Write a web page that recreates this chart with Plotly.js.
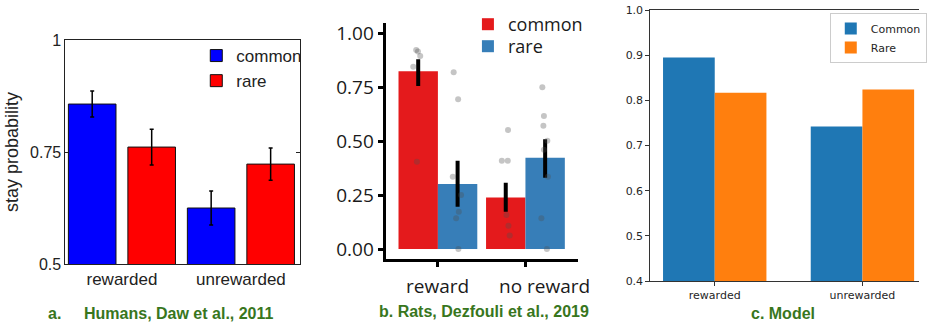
<!DOCTYPE html>
<html><head><meta charset="utf-8">
<script src="https://cdn.plot.ly/plotly-3.0.1.min.js"></script>
<style>html,body{margin:0;padding:0;background:#fff;}#chart{width:927px;height:326px;}</style>
</head><body><div id="chart"></div>
<script>
// ---------- Panel a: Humans, Daw et al., 2011 ----------
const catsA = ['rewarded', 'unrewarded'];
const humansCommon = [0.857, 0.625];
const humansRare = [0.761, 0.723];
const humansCommonErr = [0.029, 0.038];
const humansRareErr = [0.040, 0.036];
const ticksA = [0.5, 0.75, 1];
const tickTextA = ['0.5', '0.75', '1'];

// ---------- Panel b: Rats, Dezfouli et al., 2019 ----------
const catsB = ['reward', 'no reward'];
const ratsCommon = [0.823, 0.238];
const ratsRare = [0.301, 0.423];
const ratsCommonLow = [0.755, 0.173];
const ratsCommonHigh = [0.878, 0.307];
const ratsRareLow = [0.196, 0.330];
const ratsRareHigh = [0.409, 0.508];
// individual animals (grey dots), per condition
const ratsCommonRewardPts = [0.921, 0.914, 0.894, 0.844, 0.404];
const ratsRareRewardPts = [0.818, 0.693, 0.335, 0.250, 0.173, 0.142, 0.0];
const ratsCommonNoRewardPts = [0.551, 0.409, 0.409, 0.157, 0.108, 0.062];
const ratsRareNoRewardPts = [0.749, 0.616, 0.571, 0.501, 0.460, 0.335, 0.142, 0.0];
// horizontal jitter of the dots (category units)
const jitCommonReward = [-0.023, -0.003, 0.023, -0.057, -0.015];
const jitRareReward = [-0.045, 0.006, -0.055, 0.040, 0.014, -0.017, 0.009];
const jitCommonNoReward = [0.026, -0.045, 0.023, 0.008, 0.031, 0.045];
const jitRareNoReward = [-0.032, -0.014, -0.020, 0.025, -0.014, 0.032, -0.043, 0.020];
const ticksB = [0, 0.25, 0.5, 0.75, 1];

// ---------- Panel c: Model ----------
const catsC = ['rewarded', 'unrewarded'];
const modelCommon = [0.895, 0.742];
const modelRare = [0.817, 0.824];
const ticksC = [0.4, 0.5, 0.6, 0.7, 0.8, 0.9, 1.0];

// ---------- layout helpers ----------
const W = 927, H = 326;
const px = v => v / W;
const py = v => 1 - v / H;
const idx = arr => arr.map((_, i) => i);
const green = '#38761d';
const titleFont = {family: 'Liberation Sans, Arial, sans-serif', size: 16, color: green, weight: 700};

const wA = 0.4, wB = 0.45, wC = 0.35;

const traces = [];
// Panel a bars
traces.push({type: 'bar', name: 'common', x: idx(catsA), y: humansCommon, xaxis: 'x', yaxis: 'y',
  width: wA, offset: -0.45, legend: 'legend',
  marker: {color: '#0000ff', line: {color: '#111', width: 1}},
  error_y: {type: 'data', array: humansCommonErr, visible: true, color: '#000', thickness: 1.5, width: 2}});
traces.push({type: 'bar', name: 'rare', x: idx(catsA), y: humansRare, xaxis: 'x', yaxis: 'y',
  width: wA, offset: 0.05, legend: 'legend',
  marker: {color: '#ff0000', line: {color: '#111', width: 1}},
  error_y: {type: 'data', array: humansRareErr, visible: true, color: '#000', thickness: 1.5, width: 2}});

// Panel b bars
const diff = (a, b) => a.map((v, i) => v - b[i]);
traces.push({type: 'bar', name: 'common', x: idx(catsB), y: ratsCommon, xaxis: 'x2', yaxis: 'y2',
  width: wB, offset: -wB, legend: 'legend2',
  marker: {color: '#e41a1c', line: {width: 0}},
  error_y: {type: 'data', symmetric: false, array: diff(ratsCommonHigh, ratsCommon),
    arrayminus: diff(ratsCommon, ratsCommonLow), visible: true, color: '#000', thickness: 4, width: 0}});
traces.push({type: 'bar', name: 'rare', x: idx(catsB), y: ratsRare, xaxis: 'x2', yaxis: 'y2',
  width: wB, offset: 0, legend: 'legend4',
  marker: {color: '#377eb8', line: {width: 0}},
  error_y: {type: 'data', symmetric: false, array: diff(ratsRareHigh, ratsRare),
    arrayminus: diff(ratsRare, ratsRareLow), visible: true, color: '#000', thickness: 4, width: 0}});
// Panel b dots
const dotGroups = [
  [ratsCommonRewardPts, jitCommonReward, 0, -wB / 2],
  [ratsRareRewardPts, jitRareReward, 0, wB / 2],
  [ratsCommonNoRewardPts, jitCommonNoReward, 1, -wB / 2],
  [ratsRareNoRewardPts, jitRareNoReward, 1, wB / 2]
];
dotGroups.forEach(([vals, jit, ci, side]) => {
  traces.push({type: 'scatter', mode: 'markers', x: vals.map((_, i) => ci + side + jit[i]), y: vals,
    xaxis: 'x2', yaxis: 'y2', showlegend: false, cliponaxis: false,
    marker: {size: 6, color: 'rgba(80,80,80,0.33)', line: {width: 0}}});
});

// Panel c bars
traces.push({type: 'bar', name: 'Common', x: idx(catsC), y: modelCommon, xaxis: 'x3', yaxis: 'y3',
  width: wC, offset: -wC, legend: 'legend3', marker: {color: '#1f77b4', line: {width: 0}}});
traces.push({type: 'bar', name: 'Rare', x: idx(catsC), y: modelRare, xaxis: 'x3', yaxis: 'y3',
  width: wC, offset: 0, legend: 'legend3', marker: {color: '#ff7f0e', line: {width: 0}}});

const fA = {family: 'Liberation Sans, Arial, sans-serif', color: '#222'};
const fB = {family: 'Open Sans, sans-serif', color: '#1a1a1a'};
const fC = {family: 'DejaVu Sans, sans-serif', color: '#262626'};

const layout = {
  width: W, height: H, margin: {l: 0, r: 0, t: 0, b: 0},
  paper_bgcolor: '#fff', plot_bgcolor: 'rgba(0,0,0,0)', barmode: 'group',
  xaxis: {domain: [px(66), px(303)], range: [-0.475, 1.5], anchor: 'y',
    tickvals: idx(catsA), ticktext: catsA, ticks: '', showgrid: false, zeroline: false,
    showline: true, mirror: true, linecolor: '#222', linewidth: 1,
    tickfont: Object.assign({size: 17}, fA)},
  yaxis: {domain: [py(264), py(40)], range: [0.5, 1], anchor: 'x',
    tickvals: ticksA, ticktext: tickTextA, ticks: 'inside', ticklen: 4, tickcolor: '#222',
    showgrid: false, zeroline: false, showline: true, mirror: 'ticks', linecolor: '#222', linewidth: 1,
    tickfont: Object.assign({size: 16}, fA),
    title: {text: 'stay probability', font: Object.assign({size: 18}, fA), standoff: 6}},
  xaxis2: {domain: [px(389), px(583)], range: [-0.597, 1.6], anchor: 'y2',
    tickvals: idx(catsB), ticktext: catsB, showticklabels: false, ticks: 'outside', ticklen: 5, tickwidth: 3,
    tickcolor: '#000', showgrid: false, zeroline: false, showline: true, linecolor: '#000', linewidth: 3},
  yaxis2: {domain: [py(259), py(23)], range: [-0.0463, 1.0463], anchor: 'x2',
    tickvals: ticksB, tickformat: '.2f', ticks: 'outside', ticklen: 5, tickwidth: 3, tickcolor: '#000',
    showgrid: false, zeroline: false, showline: true, linecolor: '#000', linewidth: 3,
    tickfont: Object.assign({size: 19}, fB)},
  xaxis3: {domain: [px(656), 1], range: [-0.436, 1.383], anchor: 'y3',
    tickvals: idx(catsC), ticktext: catsC, ticks: 'outside', ticklen: 4, tickcolor: '#333',
    showgrid: false, zeroline: false, showline: true, mirror: true, linecolor: '#333', linewidth: 1,
    tickfont: Object.assign({size: 11}, fC)},
  yaxis3: {domain: [py(281), py(10)], range: [0.4, 1.0], anchor: 'x3',
    tickvals: ticksC, tickformat: '.1f', ticks: 'outside', ticklen: 4, tickcolor: '#333',
    showgrid: false, zeroline: false, showline: true, linecolor: '#333', linewidth: 1,
    tickfont: Object.assign({size: 11}, fC)},
  legend: {x: px(198), y: py(38), xanchor: 'left', yanchor: 'top', bgcolor: 'rgba(0,0,0,0)',
    font: Object.assign({size: 17}, fA), tracegroupgap: 0},
  legend2: {x: px(472), y: py(6), xanchor: 'left', yanchor: 'top', bgcolor: 'rgba(0,0,0,0)',
    font: Object.assign({size: 18}, fB)},
  legend4: {x: px(472), y: py(28), xanchor: 'left', yanchor: 'top', bgcolor: 'rgba(0,0,0,0)',
    font: Object.assign({size: 18}, fB)},
  legend3: {x: px(837), y: py(13), xanchor: 'left', yanchor: 'top', bgcolor: '#fff',
    bordercolor: '#cccccc', borderwidth: 1, font: Object.assign({size: 11}, fC)},
  annotations: [
    ...catsB.map((c, i) => ({text: c, xref: 'x2', yref: 'paper', x: i, y: py(271), yanchor: 'top',
      xshift: i === 1 ? 19 : 0, showarrow: false, font: Object.assign({size: 19}, fB)})),
    {text: 'a.', xref: 'paper', yref: 'paper', x: px(46), y: py(313), xanchor: 'left', yanchor: 'middle',
      showarrow: false, font: titleFont},
    {text: 'Humans, Daw et al., 2011', xref: 'paper', yref: 'paper', x: px(83), y: py(313), xanchor: 'left',
      yanchor: 'middle', showarrow: false, font: titleFont},
    {text: 'b. Rats, Dezfouli et al., 2019', xref: 'paper', yref: 'paper', x: px(380), y: py(311),
      xanchor: 'left', yanchor: 'middle', showarrow: false, font: titleFont},
    {text: 'c. Model', xref: 'paper', yref: 'paper', x: px(790), y: py(313), xanchor: 'center',
      yanchor: 'middle', showarrow: false, font: titleFont}
  ]
};

Plotly.newPlot('chart', traces, layout, {staticPlot: true, displayModeBar: false});
</script>
</body></html>
